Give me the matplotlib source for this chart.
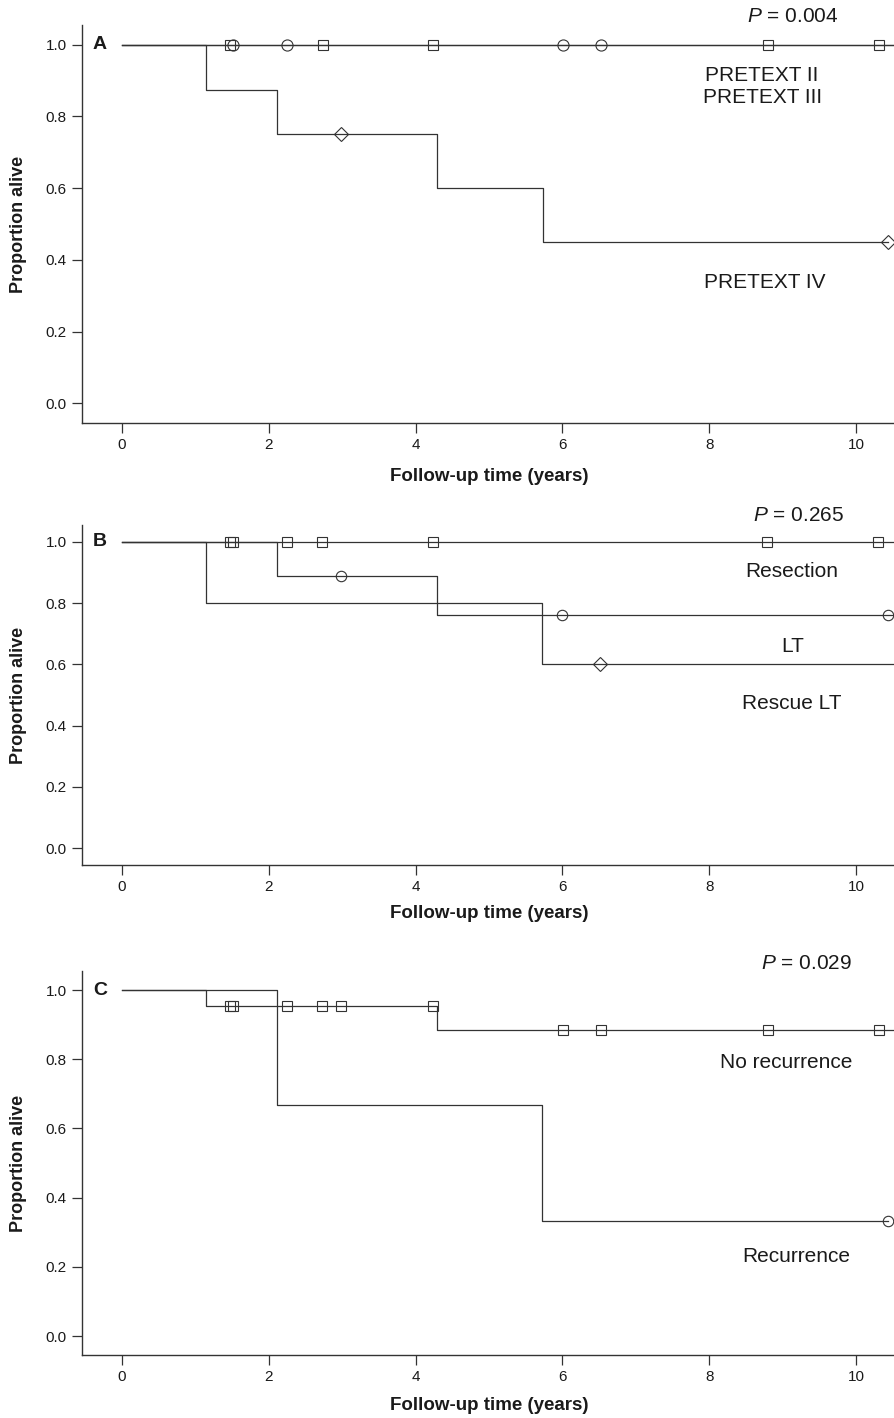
#!/usr/bin/env python3

import numpy as np
import matplotlib
matplotlib.use("Agg")
import matplotlib.pyplot as plt
from matplotlib.ticker import FormatStrFormatter

# ---- data (years, survival proportion) ----
# Panel A: PRETEXT stage
a_ii_censors = [1.51, 2.25, 6.01, 6.53, 11.2]
a_iii_censors = [1.47, 2.74, 4.24, 8.80, 10.31, 11.2]
a_iv_events = [1.14, 2.11, 4.29, 5.74]
a_iv_surv = [0.875, 0.75, 0.60, 0.45]
a_iv_censors = [2.98, 10.44]

# Panel B: treatment
b_res_censors = [1.47, 1.51, 2.25, 2.73, 4.24, 8.79, 10.30, 11.2]
b_lt_events = [2.11, 4.29]
b_lt_surv = [0.889, 0.762]
b_lt_censors = [2.98, 6.00, 10.44, 11.2]
b_rescue_events = [1.14, 5.72]
b_rescue_surv = [0.80, 0.60]
b_rescue_censors = [6.51, 11.2]

# Panel C: recurrence
c_norec_events = [1.14, 4.29]
c_norec_surv = [0.955, 0.886]
c_norec_censors = [1.47, 1.51, 2.25, 2.73, 2.98, 4.24, 6.01, 6.53, 8.80, 10.31, 11.2]
c_rec_events = [2.11, 5.72]
c_rec_surv = [0.667, 0.333]
c_rec_censors = [10.44]

p_values = ["0.004", "0.265", "0.029"]
panel_letters = ["A", "B", "C"]
x_ticks = [0, 2, 4, 6, 8, 10]
y_ticks = [0.0, 0.2, 0.4, 0.6, 0.8, 1.0]

LINE = "#333333"
TEXT = "#1a1a1a"
FONT = ["Liberation Sans", "DejaVu Sans"]


def km(ax, events, surv, censors, marker, ms):
    t = [0.0] + list(events)
    s = [1.0] + list(surv)
    t_end = max([t[-1]] + list(censors))
    ax.step(t + [t_end], s + [s[-1]], where="post", color=LINE, lw=0.9)
    cy = [s[np.searchsorted(t, c, side="right") - 1] for c in censors]
    ax.plot(censors, cy, linestyle="none", marker=marker, ms=ms,
            mfc="none", mec=LINE, mew=0.8)


def style(ax, letter, label_y):
    ax.set_xlim(-0.545, 10.53)
    ax.set_ylim(-0.055, 1.055)
    ax.set_xticks(x_ticks)
    ax.set_yticks(y_ticks)
    ax.yaxis.set_major_formatter(FormatStrFormatter("%.1f"))
    for side in ("top", "right"):
        ax.spines[side].set_visible(False)
    for side in ("left", "bottom"):
        ax.spines[side].set_color("#333333")
        ax.spines[side].set_linewidth(1.0)
    ax.tick_params(direction="out", length=7, width=0.9, color="#333333",
                   labelsize=11, labelcolor=TEXT, pad=4)
    ax.set_ylabel("Proportion alive", fontsize=13, fontweight="bold", color=TEXT)
    ax.yaxis.set_label_coords(-0.068, 0.5)
    ax.set_xlabel("Follow-up time (years)", fontsize=13.5, fontweight="bold", color=TEXT)
    ax.xaxis.set_label_coords(0.5006, label_y)
    ax.text(-0.30, 1.0, letter, fontsize=14, fontweight="bold", color=TEXT,
            ha="center", va="center")


plt.rcParams.update({
    "font.family": FONT,
    "mathtext.fontset": "custom",
    "mathtext.it": "Liberation Sans:italic",
    "mathtext.rm": "Liberation Sans",
})

fig = plt.figure(figsize=(8.95, 14.18), dpi=100)
ax_a = fig.add_axes([0.0916, 0.7017, 0.9084, 0.2807])
ax_b = fig.add_axes([0.0916, 0.3900, 0.9084, 0.2398])
ax_c = fig.add_axes([0.0916, 0.0444, 0.9084, 0.2708])

# A
km(ax_a, [], [], a_ii_censors, "o", 8)
km(ax_a, [], [], a_iii_censors, "s", 7.5)
km(ax_a, a_iv_events, a_iv_surv, a_iv_censors, "D", 7.2)
style(ax_a, panel_letters[0], -0.113)
ax_a.text(9.14, 1.078, "$P$ = " + p_values[0], fontsize=15, ha="center", va="center", color=TEXT)
ax_a.text(8.72, 0.914, "PRETEXT II", fontsize=15, ha="center", va="center", color=TEXT)
ax_a.text(8.72, 0.853, "PRETEXT III", fontsize=15, ha="center", va="center", color=TEXT)
ax_a.text(8.76, 0.336, "PRETEXT IV", fontsize=15, ha="center", va="center", color=TEXT)

# B
km(ax_b, [], [], b_res_censors, "s", 7.2)
km(ax_b, b_lt_events, b_lt_surv, b_lt_censors, "o", 7.5)
km(ax_b, b_rescue_events, b_rescue_surv, b_rescue_censors, "D", 7.0)
style(ax_b, panel_letters[1], -0.117)
ax_b.text(9.21, 1.085, "$P$ = " + p_values[1], fontsize=15, ha="center", va="center", color=TEXT)
ax_b.text(9.13, 0.902, "Resection", fontsize=15, ha="center", va="center", color=TEXT)
ax_b.text(9.13, 0.657, "LT", fontsize=15, ha="center", va="center", color=TEXT)
ax_b.text(9.13, 0.471, "Rescue LT", fontsize=15, ha="center", va="center", color=TEXT)

# C
km(ax_c, c_norec_events, c_norec_surv, c_norec_censors, "s", 7.2)
km(ax_c, c_rec_events, c_rec_surv, c_rec_censors, "o", 7.5)
style(ax_c, panel_letters[2], -0.109)
ax_c.text(9.32, 1.078, "$P$ = " + p_values[2], fontsize=15, ha="center", va="center", color=TEXT)
ax_c.text(9.05, 0.791, "No recurrence", fontsize=15, ha="center", va="center", color=TEXT)
ax_c.text(9.18, 0.229, "Recurrence", fontsize=15, ha="center", va="center", color=TEXT)

fig.savefig("out.png", dpi=100)
plt.close(fig)
